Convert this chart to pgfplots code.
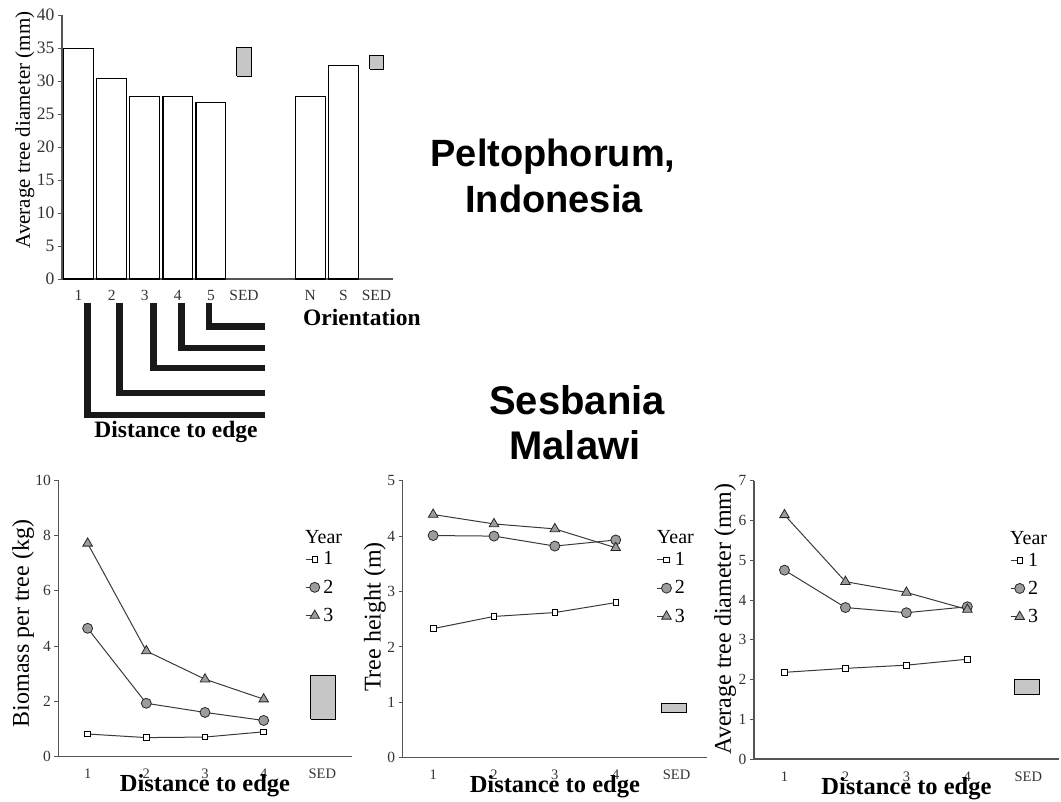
\documentclass[border=0pt]{standalone}
\usepackage{fontspec}
\setmainfont{Liberation Serif}
\newfontfamily\hv{Liberation Sans}
\usepackage{pgfplots}
\pgfplotsset{compat=1.18}

\definecolor{markgray}{HTML}{9C9C9C}
\definecolor{sedgray}{HTML}{C6C6C6}
\definecolor{linegray}{HTML}{3A3A3A}
\definecolor{axisgray}{HTML}{555555}
\definecolor{ticktext}{HTML}{333333}

\newcommand\fs[1]{\fontsize{#1}{#1}\selectfont}

\pgfplotsset{
  panel/.style={
    scale only axis, anchor=south west, clip=false,
    axis lines*=left,
    axis line style={draw=axisgray, line width=1.1pt},
    tick align=outside, major tick length=4pt,
    xtick style={draw=none},
    ytick style={draw=axisgray, line width=0.9pt},
    /pgf/number format/assume math mode=true,
    tick label style={text=ticktext},
  },
  lower/.style={
    panel, xmin=0.5, xmax=5.5, ymin=0,
    xtick={1,2,3,4,5}, xticklabels={1,2,3,4,SED},
    x tick label style={font=\fs{14.5}, yshift=-5pt},
    y tick label style={font=\fs{15.5}},
    xlabel={\bfseries Distance to edge},
    xlabel style={font=\fs{24.5}, at={(axis description cs:0.5,0)}, anchor=base, yshift=-35pt},
    ylabel style={font=\fs{24}, anchor=center},
    legend cell align=left,
    legend image code/.code={\draw[mark repeat=2, mark phase=2, #1] plot coordinates {(0pt,0pt) (9pt,0pt)};},
    legend style={draw=none, fill=none, inner sep=0pt, row sep=11.5pt, column sep=2.5pt,
      nodes={inner sep=1pt, font=\fs{20}}},
  },
  yr1/.style={draw=linegray, line width=1pt, mark=square*, mark size=2.8pt,
    mark options={fill=white, draw=black, line width=0.8pt}},
  yr2/.style={draw=linegray, line width=1pt, mark=*, mark size=5pt,
    mark options={fill=markgray, draw=black!85, line width=0.8pt}},
  yr3/.style={draw=linegray, line width=1pt, mark=triangle*, mark size=5.5pt,
    mark options={fill=markgray, draw=black!85, line width=0.8pt}},
  sed/.style={draw=black, fill=sedgray, line width=1pt},
}

\begin{document}
\begin{tikzpicture}
\path[use as bounding box] (0pt,0pt) rectangle (1061pt,-802pt);

% Peltophorum, bar chart
\begin{axis}[panel, at={(62pt,-279pt)}, width=331pt, height=264pt,
  xmin=0.5, xmax=10.5, ymin=0, ymax=40,
  xtick={1,2,3,4,5,6,8,9,10}, xticklabels={1,2,3,4,5,SED,N,S,SED},
  ytick={0,5,...,40},
  x tick label style={font=\fs{15.5}, yshift=-4pt},
  y tick label style={font=\fs{17.5}},
  ylabel={Average tree diameter (mm)},
  ylabel style={font=\fs{21}, at={(axis description cs:-0.112,0.564)}, anchor=center}]
\addplot[ybar, bar width=0.9, bar shift=0pt, fill=white, draw=black, line width=1.2pt]
  coordinates {(1,34.9) (2,30.4) (3,27.6) (4,27.6) (5,26.8) (8,27.6) (9,32.4)};
\addplot[sed] coordinates {(5.78,30.7) (6.23,30.7) (6.23,35.05) (5.78,35.05) (5.78,30.7)};
\addplot[sed] coordinates {(9.79,31.8) (10.21,31.8) (10.21,33.9) (9.79,33.9) (9.79,31.8)};
\end{axis}

% edge diagram
\begin{scope}[line width=6.5pt, draw=black!90, line join=miter, line cap=butt]
\draw (87.7pt,-303pt) |- (265pt,-415pt);
\draw (119.3pt,-303pt) |- (265pt,-393pt);
\draw (153.3pt,-303pt) |- (265pt,-368pt);
\draw (181.7pt,-303pt) |- (265pt,-348pt);
\draw (209pt,-303pt) |- (265pt,-326.5pt);
\end{scope}
\node[anchor=base west, inner sep=0pt, font=\fs{23.5}\bfseries] at (303pt,-326pt) {Orientation};
\node[anchor=base, inner sep=0pt, font=\fs{23.5}\bfseries] at (176pt,-438pt) {Distance to edge};

% titles
\node[anchor=base, inner sep=0pt, font=\hv\fs{38}\bfseries] at (553pt,-167pt) {Peltophorum,};
\node[anchor=base, inner sep=0pt, font=\hv\fs{38}\bfseries] at (554pt,-213pt) {Indonesia};
\node[anchor=base, inner sep=0pt, font=\hv\fs{40}\bfseries] at (577pt,-415pt) {Sesbania};
\node[anchor=base, inner sep=0pt, font=\hv\fs{40}\bfseries] at (575pt,-460pt) {Malawi};

% Sesbania: biomass
\begin{axis}[lower, at={(58.3pt,-756.7pt)}, width=293.4pt, height=276.7pt,
  ymax=10, ytick={0,2,...,10},
  ylabel={Biomass per tree (kg)},
  ylabel style={at={(axis description cs:-0.12,0.481)}},
  legend style={at={(axis description cs:0.841,0.745)}, anchor=north west}]
\addplot[yr1] coordinates {(1,0.82) (2,0.69) (3,0.71) (4,0.90)};
\addlegendentry{1}
\addplot[yr2] coordinates {(1,4.64) (2,1.93) (3,1.60) (4,1.31)};
\addlegendentry{2}
\addplot[yr3] coordinates {(1,7.71) (2,3.82) (3,2.80) (4,2.08)};
\addlegendentry{3}
\addplot[sed, forget plot] coordinates {(4.80,1.35) (5.23,1.35) (5.23,2.95) (4.80,2.95) (4.80,1.35)};
\node[anchor=base west, inner sep=0pt, font=\fs{20}] at (axis description cs:0.841,0.770) {Year};
\end{axis}

% Sesbania: height
\begin{axis}[lower, at={(402.7pt,-757.7pt)}, width=304.3pt, height=277pt,
  ymax=5, ytick={0,1,...,5},
  ylabel={Tree height (m)},
  ylabel style={at={(axis description cs:-0.091,0.508)}},
  legend style={at={(axis description cs:0.835,0.745)}, anchor=north west}]
\addplot[yr1] coordinates {(1,2.33) (2,2.55) (3,2.62) (4,2.80)};
\addlegendentry{1}
\addplot[yr2] coordinates {(1,4.01) (2,4.00) (3,3.82) (4,3.93)};
\addlegendentry{2}
\addplot[yr3] coordinates {(1,4.39) (2,4.22) (3,4.13) (4,3.79)};
\addlegendentry{3}
\addplot[sed, forget plot] coordinates {(4.75,0.82) (5.17,0.82) (5.17,0.98) (4.75,0.98) (4.75,0.82)};
\node[anchor=base west, inner sep=0pt, font=\fs{20}] at (axis description cs:0.835,0.774) {Year};
\end{axis}

% Sesbania: diameter
\begin{axis}[lower, at={(754pt,-759pt)}, width=304.8pt, height=278.3pt,
  ymax=7, ytick={0,1,...,7},
  ylabel={Average tree diameter (mm)},
  ylabel style={at={(axis description cs:-0.095,0.503)}},
  legend style={at={(axis description cs:0.84,0.745)}, anchor=north west}]
\addplot[yr1] coordinates {(1,2.18) (2,2.28) (3,2.36) (4,2.51)};
\addlegendentry{1}
\addplot[yr2] coordinates {(1,4.75) (2,3.81) (3,3.68) (4,3.83)};
\addlegendentry{2}
\addplot[yr3] coordinates {(1,6.14) (2,4.46) (3,4.19) (4,3.76)};
\addlegendentry{3}
\addplot[sed, forget plot] coordinates {(4.77,1.61) (5.19,1.61) (5.19,1.99) (4.77,1.99) (4.77,1.61)};
\node[anchor=base west, inner sep=0pt, font=\fs{20}] at (axis description cs:0.84,0.771) {Year};
\end{axis}
\end{tikzpicture}
\end{document}
